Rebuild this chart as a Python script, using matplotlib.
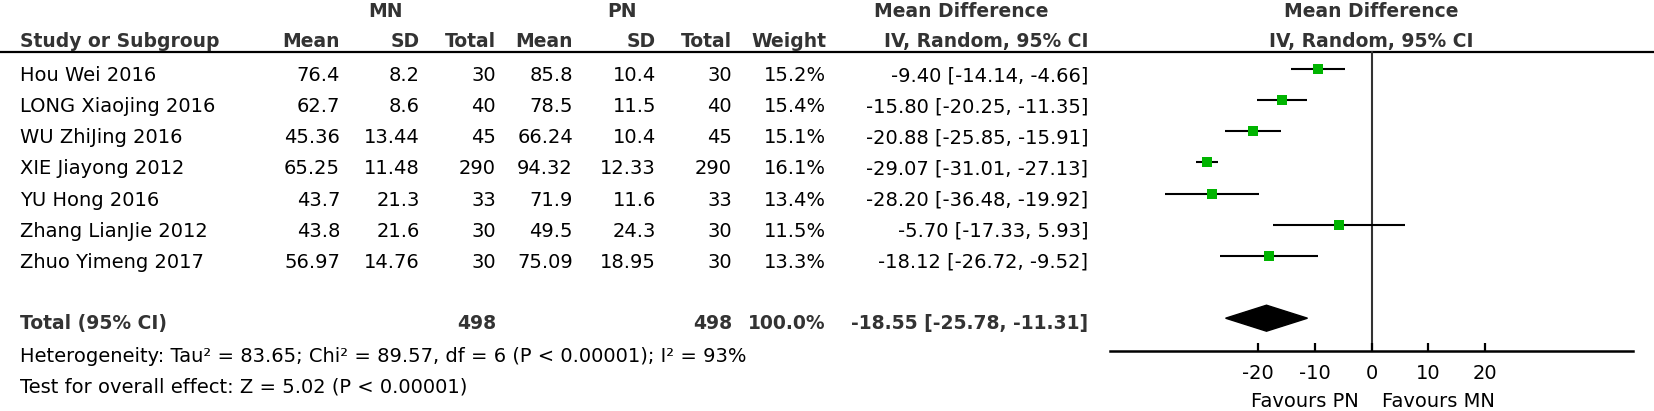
import matplotlib
matplotlib.use("Agg")
import matplotlib.pyplot as plt

# ---- data ----
studies = ["Hou Wei 2016", "LONG Xiaojing 2016", "WU ZhiJing 2016", "XIE Jiayong 2012",
           "YU Hong 2016", "Zhang LianJie 2012", "Zhuo Yimeng 2017"]
mn_mean = ["76.4", "62.7", "45.36", "65.25", "43.7", "43.8", "56.97"]
mn_sd = ["8.2", "8.6", "13.44", "11.48", "21.3", "21.6", "14.76"]
mn_total = [30, 40, 45, 290, 33, 30, 30]
pn_mean = ["85.8", "78.5", "66.24", "94.32", "71.9", "49.5", "75.09"]
pn_sd = ["10.4", "11.5", "10.4", "12.33", "11.6", "24.3", "18.95"]
pn_total = [30, 40, 45, 290, 33, 30, 30]
weight = [15.2, 15.4, 15.1, 16.1, 13.4, 11.5, 13.3]
md = [-9.40, -15.80, -20.88, -29.07, -28.20, -5.70, -18.12]
ci_low = [-14.14, -20.25, -25.85, -31.01, -36.48, -17.33, -26.72]
ci_high = [-4.66, -11.35, -15.91, -27.13, -19.92, 5.93, -9.52]
total_mn = 498
total_pn = 498
total_weight = "100.0%"
total_md = -18.55
total_low = -25.78
total_high = -11.31
heterogeneity = "Heterogeneity: Tau\u00b2 = 83.65; Chi\u00b2 = 89.57, df = 6 (P < 0.00001); I\u00b2 = 93%"
overall = "Test for overall effect: Z = 5.02 (P < 0.00001)"
xticks = [-20, -10, 0, 10, 20]
favours_left = "Favours PN"
favours_right = "Favours MN"

# ---- layout ----
W, H = 1654, 411
FS = 14
BFS = 13.5
FONT = "DejaVu Sans"
BOLD_C = "#333333"
plt.rcParams["font.family"] = [FONT]

fig = plt.figure(figsize=(W / 100, H / 100), dpi=100)
ax = fig.add_axes([0, 0, 1, 1])
ax.set_xlim(0, W)
ax.set_ylim(H, 0)
ax.axis("off")


def txt(x, yc, s, ha="left", bold=False, size=None):
    sz = size if size is not None else (BFS if bold else FS)
    e = sz * 100 / 72.0
    ax.text(x, yc + 0.36 * e, s, ha=ha, va="baseline", fontsize=sz,
            fontweight="bold" if bold else "normal",
            color=BOLD_C if bold else "black")


# headers
txt(385, 10, "MN", ha="center", bold=True)
txt(622, 10, "PN", ha="center", bold=True)
txt(961, 10, "Mean Difference", ha="center", bold=True)
txt(1371, 10, "Mean Difference", ha="center", bold=True)
hy = 40.5
txt(20, hy, "Study or Subgroup", bold=True)
cols = [340, 420, 496, 573, 656, 732, 826]
for x, h in zip(cols, ["Mean", "SD", "Total", "Mean", "SD", "Total", "Weight"]):
    txt(x, hy, h, ha="right", bold=True)
txt(1088, hy, "IV, Random, 95% CI", ha="right", bold=True)
txt(1371, hy, "IV, Random, 95% CI", ha="center", bold=True)
ax.plot([0, W], [51.7, 51.7], color="black", lw=1.6, solid_capstyle="butt")

# rows
t0, dy = 74.0, 31.15
for i, s in enumerate(studies):
    y = t0 + i * dy
    txt(20, y, s)
    vals = [mn_mean[i], mn_sd[i], str(mn_total[i]), pn_mean[i], pn_sd[i],
            str(pn_total[i]), f"{weight[i]:.1f}%"]
    for x, v in zip(cols, vals):
        txt(x, y, v, ha="right")
    txt(1088, y, f"{md[i]:.2f} [{ci_low[i]:.2f}, {ci_high[i]:.2f}]", ha="right")

yt = 322.5
txt(20, yt, "Total (95% CI)", bold=True)
txt(cols[2], yt, str(total_mn), ha="right", bold=True)
txt(cols[5], yt, str(total_pn), ha="right", bold=True)
txt(cols[6], yt, total_weight, ha="right", bold=True)
txt(1088, yt, f"{total_md:.2f} [{total_low:.2f}, {total_high:.2f}]", ha="right", bold=True)
txt(20, 355, heterogeneity)
txt(20, 385, overall)

# ---- forest ----
x0, x1 = 1110, 1633
fax = fig.add_axes([x0 / W, 0, (x1 - x0) / W, 1])
fax.set_xlim(-46.2, 46.2)
fax.set_ylim(H, 0)
fax.patch.set_visible(False)
for sp in ["top", "right", "left"]:
    fax.spines[sp].set_visible(False)
axis_y = 351
fax.spines["bottom"].set_position(("data", axis_y))
fax.spines["bottom"].set_linewidth(1.8)
fax.set_yticks([])
fax.set_xticks(xticks)
fax.set_xticklabels([str(t) for t in xticks])
fax.tick_params(axis="x", direction="in", length=6, width=1.6, pad=9, labelsize=FS)

m0 = 69.0
fax.plot([0, 0], [51.7, axis_y], color="#333333", lw=1.5, zorder=1)
for i in range(len(studies)):
    y = m0 + i * dy
    fax.plot([ci_low[i], ci_high[i]], [y, y], color="black", lw=1.5, zorder=2,
             solid_capstyle="butt")
    side = 10.5 * (weight[i] / 15.2) ** 0.5 * 0.72
    fax.scatter([md[i]], [y], marker="s", s=side ** 2, color="#00B400",
                linewidths=0, zorder=3)

yd = m0 + 8 * dy
fax.fill([total_low, total_md, total_high, total_md],
         [yd, yd - 13, yd, yd + 13], color="black", zorder=3)

fax.text(-2.3, 401.7, favours_left, ha="right", va="center", fontsize=FS,
         transform=fax.transData)
fax.text(1.9, 401.7, favours_right, ha="left", va="center", fontsize=FS,
         transform=fax.transData)

fig.savefig("out.png", dpi=100)
